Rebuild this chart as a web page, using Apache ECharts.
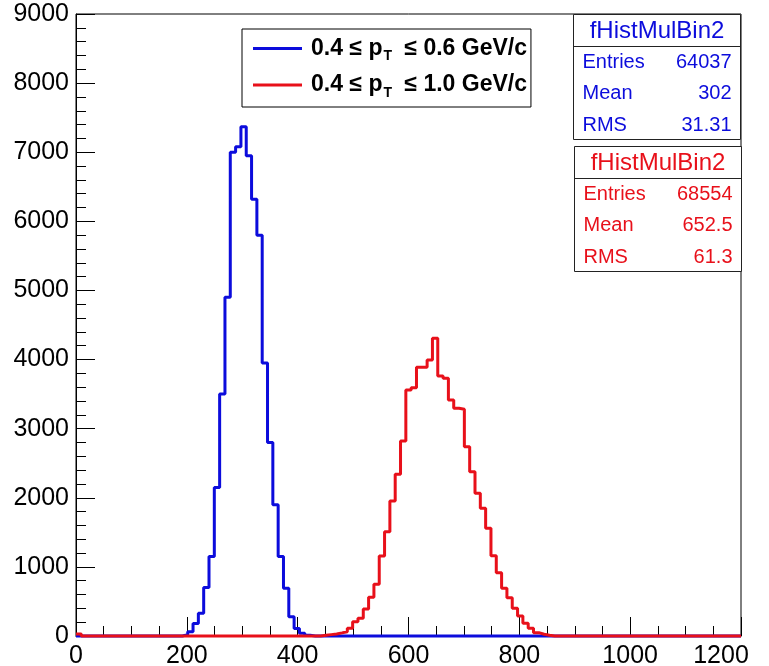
<!DOCTYPE html>
<html><head><meta charset="utf-8">
<script src="https://cdn.jsdelivr.net/npm/echarts@6/dist/echarts.min.js"></script>
<style>html,body{margin:0;padding:0;background:#fff}#c{width:769px;height:666px}</style>
</head><body><div id="c"></div>
<script>
// ---- data ----
const binWidth = 9.6;          // histogram bin width (125 bins over 0..1200)
const nBins = 125;
const seriesNames = ['0.4 ≤ pT ≤ 0.6 GeV/c', '0.4 ≤ pT ≤ 1.0 GeV/c'];
const seriesColors = ['#0c0cdc', '#e8101a'];

const blueFirstBin = 20;
const blueCounts = [20, 60, 180, 330, 700, 1150, 2150, 3500, 4900, 7000, 7080, 7370,
  6950, 6320, 5800, 3950, 2800, 1900, 1150, 690, 280, 110, 40, 10];

const redBin0Count = 30;
const redFirstBin = 46;
const redCounts = [10, 20, 30, 45, 62, 111, 207, 256, 390, 560, 748, 1158, 1510, 1954,
  2340, 2822, 3560, 3593, 3889, 3889, 3994, 4308, 3763, 3729, 3415, 3295, 3280, 2740,
  2378, 2065, 1848, 1559, 1162, 916, 690, 554, 401, 289, 184, 111, 48, 25, 10];

const xTicks = [0, 200, 400, 600, 800, 1000, 1200];
const yTicks = [0, 1000, 2000, 3000, 4000, 5000, 6000, 7000, 8000, 9000];

const statTitle = 'fHistMulBin2';
const statLabels = ['Entries', 'Mean', 'RMS'];
const blueStats = ['64037', '302', '31.31'];
const redStats = ['68554', '652.5', '61.3'];

// ---- build ----
function buildSteps(firstBin, counts, bin0) {
  const arr = new Array(nBins).fill(0);
  if (bin0 !== undefined) arr[0] = bin0;
  counts.forEach((v, i) => { arr[firstBin + i] = v; });
  const pts = arr.map((v, k) => [k * binWidth, v]);
  pts.push([nBins * binWidth, arr[nBins - 1]]);
  return pts;
}
const FONT = 'Liberation Sans, Arial, Helvetica, sans-serif';

function statBox(x, y, color, values) {
  const w = 167, h = 125;
  const els = [
    { type: 'rect', shape: { x: x, y: y, width: w, height: h }, style: { fill: '#fff', stroke: '#222', lineWidth: 1 } },
    { type: 'line', shape: { x1: x, y1: y + 32, x2: x + w, y2: y + 32 }, style: { stroke: '#222', lineWidth: 1 } },
    { type: 'text', x: x + w / 2, y: y + 16.5, style: { text: statTitle, fill: color, font: '24px ' + FONT, textAlign: 'center', textVerticalAlign: 'middle' } }
  ];
  statLabels.forEach((lab, i) => {
    const ry = y + 47.5 + i * 31.5;
    els.push({ type: 'text', x: x + 9, y: ry, style: { text: lab, fill: color, font: '20px ' + FONT, textAlign: 'left', textVerticalAlign: 'middle' } });
    els.push({ type: 'text', x: x + w - 9, y: ry, style: { text: values[i], fill: color, font: '20px ' + FONT, textAlign: 'right', textVerticalAlign: 'middle' } });
  });
  return els;
}

const chart = echarts.init(document.getElementById('c'), null, { renderer: 'canvas' });
chart.setOption({
  animation: false,
  backgroundColor: '#fff',
  grid: { left: 76, top: 14, width: 665, height: 622, show: true, borderColor: '#000', borderWidth: 1, backgroundColor: 'transparent', containLabel: false, outerBoundsMode: 'none' },
  xAxis: {
    type: 'value', min: xTicks[0], max: xTicks[xTicks.length - 1], interval: 200,
    axisLine: { show: true, lineStyle: { color: '#000', width: 1 } },
    axisTick: { show: true, inside: true, length: 19, lineStyle: { color: '#000' } },
    minorTick: { show: true, splitNumber: 4, length: 10, lineStyle: { color: '#000' } },
    splitLine: { show: false },
    axisLabel: {
      margin: 8, color: '#000', fontSize: 25, fontFamily: FONT,
      formatter: v => v === 1200 ? '{r|' + v + '}' : String(v),
      rich: { r: { fontSize: 25, fontFamily: FONT, color: '#000', padding: [0, 40, 0, 0] } }
    }
  },
  yAxis: {
    type: 'value', min: yTicks[0], max: yTicks[yTicks.length - 1], interval: 1000,
    axisLine: { show: true, lineStyle: { color: '#000', width: 1 } },
    axisTick: { show: true, inside: true, length: 19, lineStyle: { color: '#000' } },
    minorTick: { show: true, splitNumber: 5, length: 10, lineStyle: { color: '#000' } },
    splitLine: { show: false },
    axisLabel: { margin: 7, color: '#000', fontSize: 25, fontFamily: FONT, formatter: v => String(v) }
  },
  legend: {
    orient: 'vertical', left: 242, top: 29,
    padding: [8, 4, 7, 11],
    backgroundColor: '#fff', borderColor: '#000', borderWidth: 1, borderRadius: 0,
    itemWidth: 49, itemHeight: 3, itemGap: 10, icon: 'rect',
    data: seriesNames,
    formatter: n => { const i = n.indexOf('pT'); return '{b|' + n.slice(0, i + 1) + '}{s|T}{b|' + n.slice(i + 2) + '}'; },
    textStyle: {
      color: '#000', fontSize: 23, fontWeight: 'bold', fontFamily: FONT, padding: [0, 0, 0, 4],
      rich: {
        b: { fontSize: 23, fontWeight: 'bold', fontFamily: FONT, color: '#000', lineHeight: 30, verticalAlign: 'middle' },
        s: { fontSize: 14, fontWeight: 'bold', fontFamily: FONT, color: '#000', lineHeight: 8, verticalAlign: 'bottom', padding: [0, 6, 0, 1] }
      }
    }
  },
  series: [
    { name: seriesNames[0], type: 'line', step: 'end', showSymbol: false, clip: false,
      color: seriesColors[0], lineStyle: { width: 3, color: seriesColors[0] },
      data: buildSteps(blueFirstBin, blueCounts) },
    { name: seriesNames[1], type: 'line', step: 'end', showSymbol: false, clip: false,
      color: seriesColors[1], lineStyle: { width: 3, color: seriesColors[1] },
      data: buildSteps(redFirstBin, redCounts, redBin0Count) }
  ],
  graphic: [].concat(
    statBox(573.5, 14.5, seriesColors[0], blueStats),
    statBox(574.5, 146.5, seriesColors[1], redStats)
  )
});
</script></body></html>
